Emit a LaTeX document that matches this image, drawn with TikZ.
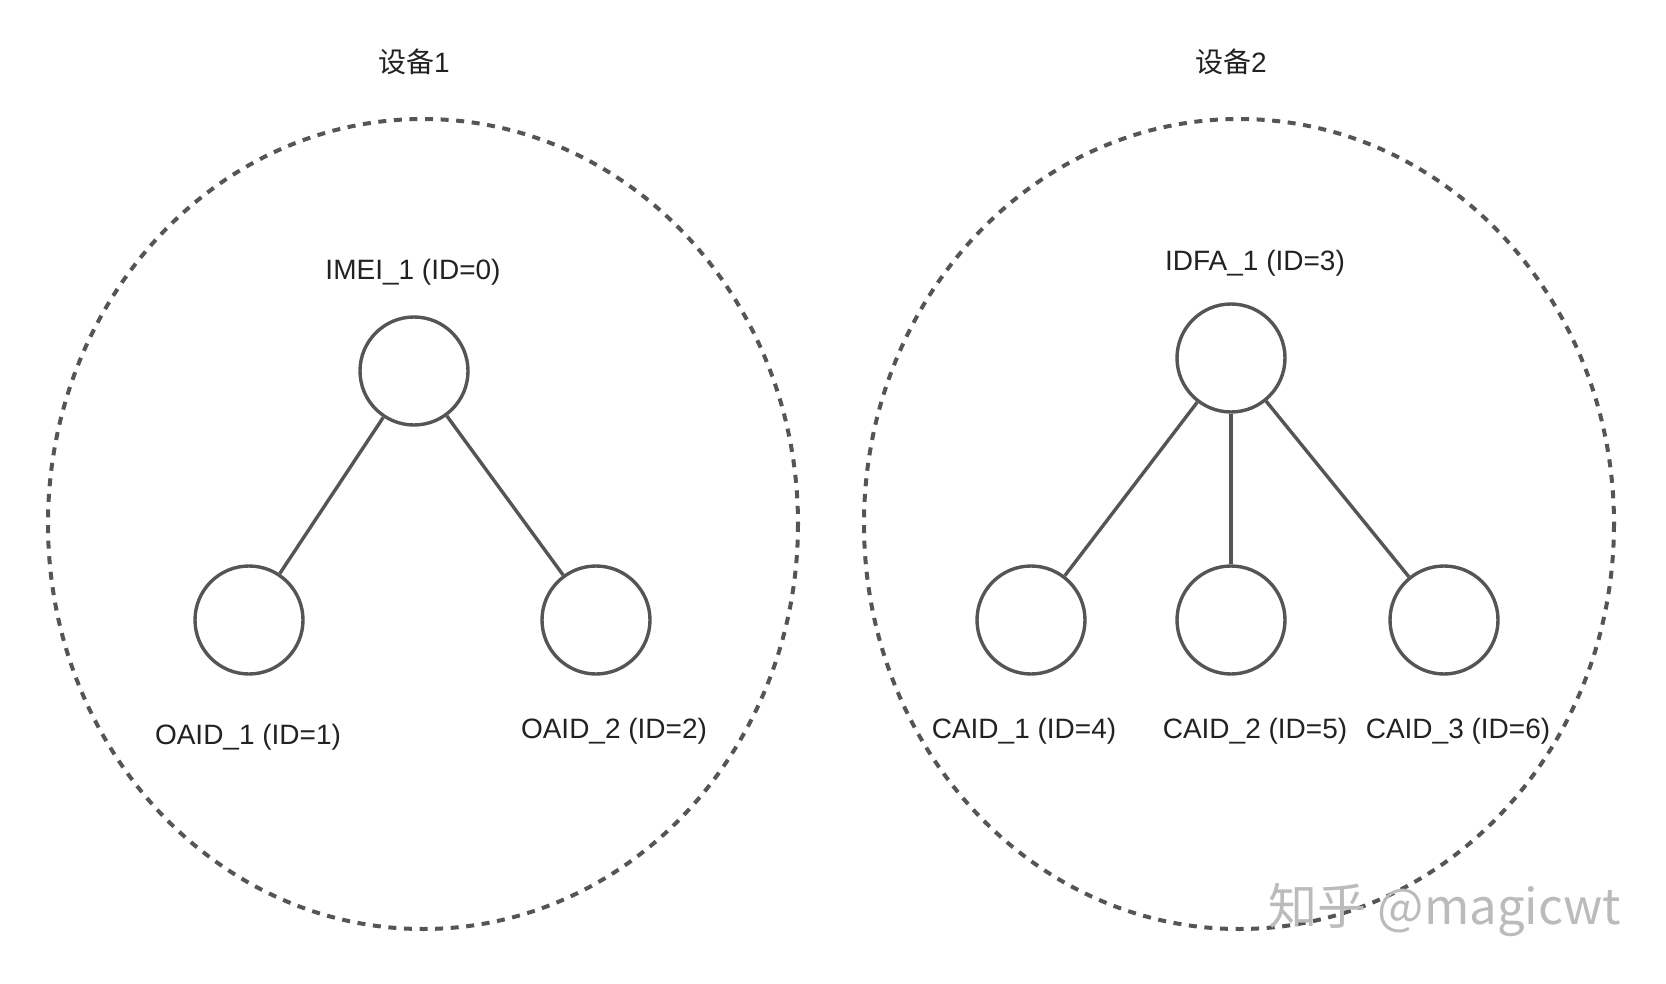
\documentclass[tikz,border=0pt]{standalone}
\usepackage{fontspec}
\setmainfont{Liberation Sans}
\newfontfamily\cjk{Noto Sans CJK SC}
\definecolor{linegray}{HTML}{555555}
\definecolor{textgray}{HTML}{222222}
\definecolor{wmgray}{HTML}{BBBBBB}
\begin{document}
\begin{tikzpicture}[x=0.5pt,y=-0.5pt,
  vtx/.style={circle,draw=linegray,line width=1.7pt,minimum size=54pt,inner sep=0pt,fill=white},
  grp/.style={draw=linegray,line width=2pt,dash pattern=on 4pt off 3.8pt},
  lbl/.style={font=\fontsize{14}{16}\selectfont,text=textgray,inner sep=0pt},
  edge/.style={draw=linegray,line width=1.7pt}]
\useasboundingbox (0,0) rectangle (1666,984);
\fill[white] (0,0) rectangle (1666,984);
% device groups
\draw[grp] (423,524) ellipse [x radius=375, y radius=405];
\draw[grp] (1239,524) ellipse [x radius=375, y radius=405];
\node[lbl] (d1) at (414,62) {{\cjk 设备}1};
\node[lbl] (d2) at (1231,62) {{\cjk 设备}2};
% device 1
\node[vtx] (imei) at (414,371) {};
\node[vtx] (oaid1) at (249,620) {};
\node[vtx] (oaid2) at (596,620) {};
\draw[edge] (imei) -- (oaid1);
\draw[edge] (imei) -- (oaid2);
\node[lbl] (limei) at (413,272) {IMEI\_1 (ID=0)};
\node[lbl] (loaid1) at (248,737) {OAID\_1 (ID=1)};
\node[lbl] (loaid2) at (614,731) {OAID\_2 (ID=2)};
% device 2
\node[vtx] (idfa) at (1231,358) {};
\node[vtx] (caid1) at (1031,620) {};
\node[vtx] (caid2) at (1231,620) {};
\node[vtx] (caid3) at (1444,620) {};
\draw[edge] (idfa) -- (caid1);
\draw[edge] (idfa) -- (caid2);
\draw[edge] (idfa) -- (caid3);
\node[lbl] (lidfa) at (1255,263) {IDFA\_1 (ID=3)};
\node[lbl] (lcaid1) at (1024,731) {CAID\_1 (ID=4)};
\node[lbl] (lcaid2) at (1255,731) {CAID\_2 (ID=5)};
\node[lbl] (lcaid3) at (1458,731) {CAID\_3 (ID=6)};
% watermark
\node[font=\cjk\fontsize{24.5}{27}\selectfont,text=wmgray,inner sep=0pt] (wm) at (1445,910) {知乎 @magicwt};
\end{tikzpicture}
\end{document}
